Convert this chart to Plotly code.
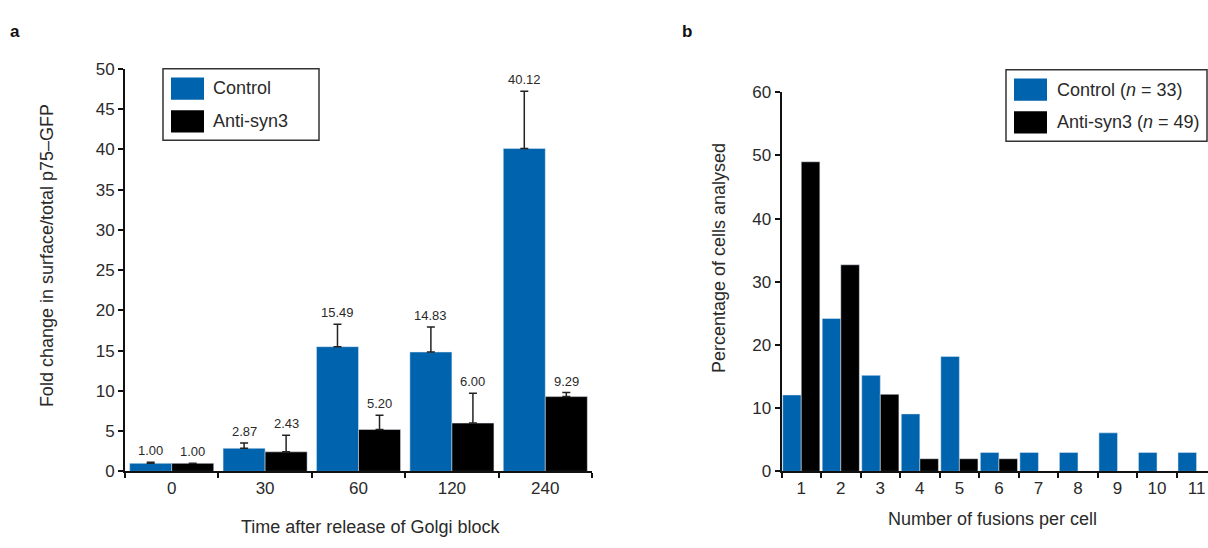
import plotly.graph_objects as go

# ---------------- data ----------------
time_labels = ["0", "30", "60", "120", "240"]
ctrl_fold = [1.00, 2.87, 15.49, 14.83, 40.12]
ctrl_err = [0.15, 0.65, 2.8, 3.1, 7.1]
anti_fold = [1.00, 2.43, 5.20, 6.00, 9.29]
anti_err = [0.0, 2.05, 1.78, 3.7, 0.5]

fusion_labels = ["1", "2", "3", "4", "5", "6", "7", "8", "9", "10", "11"]
ctrl_pct = [12.1, 24.2, 15.2, 9.1, 18.2, 3.0, 3.0, 3.0, 6.1, 3.0, 3.0]
anti_pct = [49.0, 32.7, 12.2, 2.0, 2.0, 2.0, 0, 0, 0, 0, 0]

# ---------------- style ----------------
W, H = 1208, 548
BLUE = "#0063AD"
BLACK = "#000000"
TXT = "#2a2a2a"
FONT = "Liberation Sans, Arial, Helvetica, sans-serif"
WA = 0.45   # bar width panel a (category units)
WB = 0.47   # bar width panel b


def px(x):
    return x / W


def py(y):
    return 1 - y / H


fig = go.Figure()

err_style = dict(type="data", symmetric=False, color="#222", thickness=1.5, width=4)

fig.add_trace(go.Bar(x=time_labels, y=ctrl_fold, name="Control", marker_color=BLUE,
                     width=WA, offset=-WA, showlegend=False,
                     error_y=dict(array=ctrl_err, arrayminus=[0] * len(ctrl_err), **err_style),
                     xaxis="x", yaxis="y"))
fig.add_trace(go.Bar(x=time_labels, y=anti_fold, name="Anti-syn3", marker_color=BLACK,
                     width=WA, offset=0, showlegend=False,
                     error_y=dict(array=anti_err, arrayminus=[0] * len(anti_err), **err_style),
                     xaxis="x", yaxis="y"))

fig.add_trace(go.Bar(x=fusion_labels, y=ctrl_pct, name="Control (n = 33)", marker_color=BLUE,
                     width=WB, offset=-WB, showlegend=False, xaxis="x2", yaxis="y2"))
fig.add_trace(go.Bar(x=fusion_labels, y=anti_pct, name="Anti-syn3 (n = 49)", marker_color=BLACK,
                     width=WB, offset=0, showlegend=False, xaxis="x2", yaxis="y2"))

annotations = []
# value labels above error bars
for i, (v, e) in enumerate(zip(ctrl_fold, ctrl_err)):
    annotations.append(dict(x=i - WA / 2, y=v + e, xref="x", yref="y", text=f"{v:.2f}",
                            showarrow=False, xanchor="center", yanchor="bottom", yshift=2,
                            font=dict(size=13, color=TXT, family=FONT)))
for i, (v, e) in enumerate(zip(anti_fold, anti_err)):
    annotations.append(dict(x=i + WA / 2, y=v + e, xref="x", yref="y", text=f"{v:.2f}",
                            showarrow=False, xanchor="center", yanchor="bottom", yshift=2,
                            font=dict(size=13, color=TXT, family=FONT)))


def label(x, y, text, size=18, angle=0, color=TXT, xanchor="center"):
    annotations.append(dict(x=px(x), y=py(y), xref="paper", yref="paper", text=text,
                            textangle=angle, showarrow=False, xanchor=xanchor, yanchor="middle",
                            font=dict(size=size, color=color, family=FONT)))


# axis titles
label(47, 256, "Fold change in surface/total p75\u2013GFP", angle=-90)
label(370, 537, "Time after release of Golgi block")
label(719, 258, "Percentage of cells analysed", angle=-90)
label(993, 528, "Number of fusions per cell")
# panel letters
label(15, 23, "<b>a</b>", size=17, color="#111")
label(687, 23, "<b>b</b>", size=17, color="#111")

# manual legends (large swatches as in the reference)
shapes = []


def legend_box(x0, y0, x1, y1, items):
    shapes.append(dict(type="rect", xref="paper", yref="paper", x0=px(x0), x1=px(x1),
                       y0=py(y1), y1=py(y0), line=dict(color="#333", width=1.5),
                       fillcolor="white", layer="above"))
    for (sx0, sy0, sx1, sy1, color, text, tx, ty) in items:
        shapes.append(dict(type="rect", xref="paper", yref="paper", x0=px(sx0), x1=px(sx1),
                           y0=py(sy1), y1=py(sy0), line=dict(width=0), fillcolor=color,
                           layer="above"))
        label(tx, ty, text, xanchor="left")


legend_box(163, 62, 319, 136, [
    (171, 71, 204, 94, BLUE, "Control", 211, 82),
    (171, 105, 204, 128, BLACK, "Anti-syn3", 211, 116),
])
legend_box(1006, 63, 1207, 137, [
    (1014, 72, 1047, 95, BLUE, "Control (<i>n</i> = 33)", 1055, 84),
    (1014, 106, 1047, 129, BLACK, "Anti-syn3 (<i>n</i> = 49)", 1055, 117),
])

axis_common = dict(showline=True, linecolor="#111", linewidth=2, ticks="outside",
                   ticklen=5, tickwidth=2, tickcolor="#111", showgrid=False, zeroline=False,
                   tickfont=dict(size=17, color=TXT, family=FONT))

fig.update_layout(
    width=W, height=H,
    margin=dict(l=0, r=0, t=0, b=0),
    paper_bgcolor="white", plot_bgcolor="white",
    barmode="group", bargap=0.1,
    font=dict(family=FONT, color=TXT),
    xaxis=dict(domain=[px(125), px(592)], anchor="y", type="category",
               range=[-0.5, 4.5], tickson="boundaries", **axis_common),
    yaxis=dict(domain=[py(479), py(62)], anchor="x", range=[0, 50], dtick=5, **axis_common),
    xaxis2=dict(domain=[px(781.5), 1.0], anchor="y2", type="category",
                range=[-0.5, -0.5 + (1208 - 781.5) / 39.53], tickson="boundaries", **axis_common),
    yaxis2=dict(domain=[py(479), py(86.3)], anchor="x2", range=[0, 60], dtick=10, **axis_common),
    annotations=annotations,
    shapes=shapes,
    showlegend=False,
)

fig.write_html("out.html", config={"displayModeBar": False},
               post_script="document.body.style.margin='0px';")
